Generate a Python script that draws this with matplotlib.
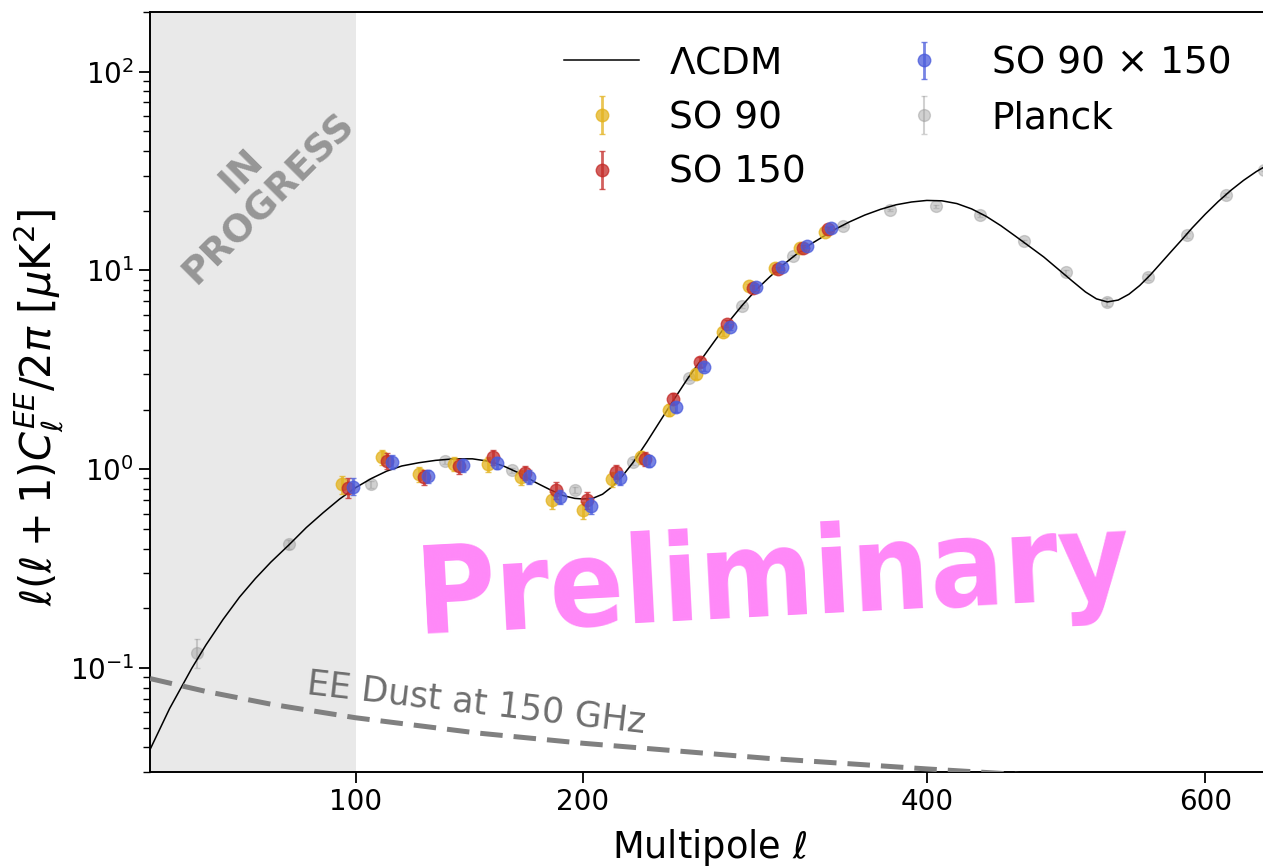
import numpy as np
import matplotlib
matplotlib.use("Agg")
import matplotlib.pyplot as plt

# ---------------- data ----------------
# LCDM EE theory curve
theory_ell = [35, 40, 46, 50, 55, 60, 65, 70, 76, 82, 88, 94, 100, 106, 112, 118, 125,
              132, 140, 148, 155, 162, 170, 177, 184, 190, 196, 200, 205, 210, 215, 220,
              226, 233, 240, 247, 255, 263, 270, 278, 286, 294, 302, 310, 318, 326, 334,
              342, 350, 360, 370, 380, 390, 400, 410, 420, 430, 440, 450, 460, 470, 480,
              490, 500, 510, 518, 526, 534, 542, 550, 558, 566, 574, 582, 590, 600, 610,
              620, 630, 640, 651]
theory_dl = [0.039, 0.0627, 0.100, 0.131, 0.176, 0.228, 0.283, 0.342, 0.417, 0.51, 0.606,
             0.71, 0.81, 0.90, 0.98, 1.04, 1.08, 1.11, 1.13, 1.13, 1.10, 1.04, 0.95, 0.86,
             0.79, 0.74, 0.715, 0.71, 0.715, 0.75, 0.82, 0.92, 1.09, 1.37, 1.74, 2.2, 2.85,
             3.6, 4.4, 5.5, 6.7, 8.0, 9.3, 10.7, 12.1, 13.5, 14.8, 16.2, 17.5, 19.0, 20.3,
             21.4, 22.1, 22.5, 22.4, 21.7, 20.4, 18.7, 16.8, 14.9, 13.2, 11.7, 10.2, 8.9,
             7.8, 7.2, 6.95, 7.1, 7.6, 8.4, 9.5, 10.9, 12.5, 14.3, 16.4, 19.2, 22.2, 25.3,
             28.4, 31.4, 34.5]

# EE dust at 150 GHz
dust_ell = [35, 50, 70, 100, 150, 200, 300, 400, 500, 651]
dust_dl = [0.0888, 0.0765, 0.066, 0.0564, 0.0473, 0.0420, 0.0353, 0.0312, 0.0282, 0.0250]

# SO bandpowers
so_ell = [97, 112, 127, 142, 157, 172, 187, 202, 217, 232, 247, 262, 277, 292, 307, 322, 337]
so90 = [0.84, 1.157, 0.944, 1.07, 1.06, 0.918, 0.70, 0.625, 0.891, 1.149, 1.985, 3.03,
        4.91, 8.32, 10.33, 13.0, 15.7]
so90_err = [0.09, 0.10, 0.08, 0.09, 0.09, 0.08, 0.07, 0.06, 0.08, 0.09, 0.14, 0.18,
            0.22, 0.28, 0.32, 0.38, 0.42]
so150 = [0.81, 1.104, 0.918, 1.04, 1.157, 0.961, 0.787, 0.70, 0.973, 1.126, 2.27, 3.47,
         5.41, 8.16, 10.13, 13.0, 16.1]
so150_err = [0.09, 0.10, 0.08, 0.09, 0.10, 0.08, 0.08, 0.07, 0.08, 0.09, 0.15, 0.20,
             0.24, 0.30, 0.34, 0.40, 0.45]
so90x150 = [0.82, 1.09, 0.926, 1.05, 1.08, 0.918, 0.728, 0.654, 0.908, 1.104, 2.06, 3.27,
            5.2, 8.25, 10.4, 13.3, 16.3]
so90x150_err = [0.08, 0.09, 0.07, 0.08, 0.08, 0.07, 0.06, 0.06, 0.07, 0.08, 0.12, 0.16,
                0.20, 0.26, 0.30, 0.35, 0.40]

# Planck bandpowers
planck_ell = [47.5, 76, 106, 136, 166, 196, 226, 256, 286, 316, 346, 376, 406, 436, 466,
              496, 526, 556, 586, 616, 646]
planck_dl = [0.12, 0.42, 0.84, 1.10, 0.99, 0.79, 1.09, 2.88, 6.6, 11.8, 16.7, 20.1, 21.0,
             18.9, 14.0, 9.8, 6.94, 9.27, 15.0, 24.0, 32.1]
planck_err = [0.02, 0.02, 0.03, 0.03, 0.03, 0.03, 0.04, 0.06, 0.1, 0.15, 0.2, 0.25, 0.3,
              0.3, 0.3, 0.3, 0.3, 0.35, 0.4, 0.5, 0.6]

xticks = [100, 200, 400, 600]

# ---------------- style ----------------
C_THEORY = "black"
C_DUST = "#808080"
C_SO90 = "#E3B21C"
C_SO150 = "#C42B28"
C_SOX = "#4A5BDB"
C_PLANCK = "#9A9A9A"
SHADE = "#E9E9E9"

W, H = 1263, 866
fig = plt.figure(figsize=(W / 100, H / 100), dpi=100)
ax_l, ax_r, ax_t, ax_b = 150, 1270, 11.7, 772.3
ax = fig.add_axes([ax_l / W, (H - ax_b) / H, (ax_r - ax_l) / W, (ax_b - ax_t) / H])

p = 0.6
def fwd(x):
    return np.power(np.clip(x, 1e-9, None), p)
def inv(x):
    return np.power(np.clip(x, 1e-9, None), 1.0 / p)

ax.set_xscale("function", functions=(fwd, inv))
ax.set_yscale("log")
ax.set_xlim(35, 651)
ax.set_ylim(0.03, 200)

ax.axvspan(35, 100, color=SHADE, zorder=0, lw=0)

ax.errorbar(planck_ell, planck_dl, yerr=planck_err, fmt="o", color=C_PLANCK, ms=8.5,
            alpha=0.45, elinewidth=1.5, capsize=2, label="Planck", zorder=2)
ax.plot(theory_ell, theory_dl, color=C_THEORY, lw=1.1, label=r"$\Lambda$CDM", zorder=3)
ax.plot(dust_ell, dust_dl, color=C_DUST, lw=3.6, dashes=(4.5, 2.2), zorder=3)

off = 2.0
ax.errorbar(np.array(so_ell) - off, so90, yerr=so90_err, fmt="o", color=C_SO90, ms=9,
            alpha=0.75, elinewidth=2, capsize=2.5, label="SO 90", zorder=4)
ax.errorbar(np.array(so_ell), so150, yerr=so150_err, fmt="o", color=C_SO150, ms=9,
            alpha=0.75, elinewidth=2, capsize=2.5, label="SO 150", zorder=5)
ax.errorbar(np.array(so_ell) + off, so90x150, yerr=so90x150_err, fmt="o", color=C_SOX, ms=9,
            alpha=0.75, elinewidth=2, capsize=2.5, label="SO 90 × 150", zorder=6)

ax.set_xticks(xticks)
ax.set_xticklabels([str(t) for t in xticks])
ax.xaxis.set_minor_locator(matplotlib.ticker.NullLocator())
ax.tick_params(axis="both", which="major", labelsize=20, length=8, width=1.3)
ax.tick_params(axis="y", which="minor", length=5, width=1.0)
for s in ["left", "bottom", "top"]:
    ax.spines[s].set_linewidth(1.4)
ax.spines["right"].set_visible(False)

ax.set_xlabel(r"Multipole $\ell$", fontsize=26.5, labelpad=8)
ax.set_ylabel(r"$\ell(\ell+1)C_{\ell}^{EE}/2\pi\ [\mu\mathrm{K}^2]$", fontsize=30, va="center")
ax.yaxis.set_label_coords((39 - ax_l) / (ax_r - ax_l), 0.48)

handles, labels = ax.get_legend_handles_labels()
order = [labels.index(n) for n in [r"$\Lambda$CDM", "SO 90", "SO 150", "SO 90 × 150", "Planck"]]
ax.legend([handles[i] for i in order], [labels[i] for i in order], ncol=2, frameon=False,
          fontsize=27, loc="upper right", bbox_to_anchor=(1.0 - 5 / 1120, 1.0),
          columnspacing=2.15)

# annotations
fig.text(476 / W, 1 - 703 / H, "EE Dust at 150 GHz", fontsize=25, color="#6E6E6E",
         rotation=-6.6, ha="center", va="center", rotation_mode="anchor")
fig.text(255 / W, 1 - 185 / H, "IN\nPROGRESS", fontsize=27, fontweight="bold",
         color="#969696", rotation=45, ha="center", va="center", multialignment="center",
         rotation_mode="anchor", linespacing=1.1)
fig.text(773 / W, 1 - 582 / H, "Preliminary", fontsize=88, fontweight="bold",
         fontstretch="condensed", family="DejaVu Sans",
         color="#FF88F8", rotation=3, ha="center", va="center", rotation_mode="anchor",
         zorder=10)

fig.savefig("out.png", dpi=100)
